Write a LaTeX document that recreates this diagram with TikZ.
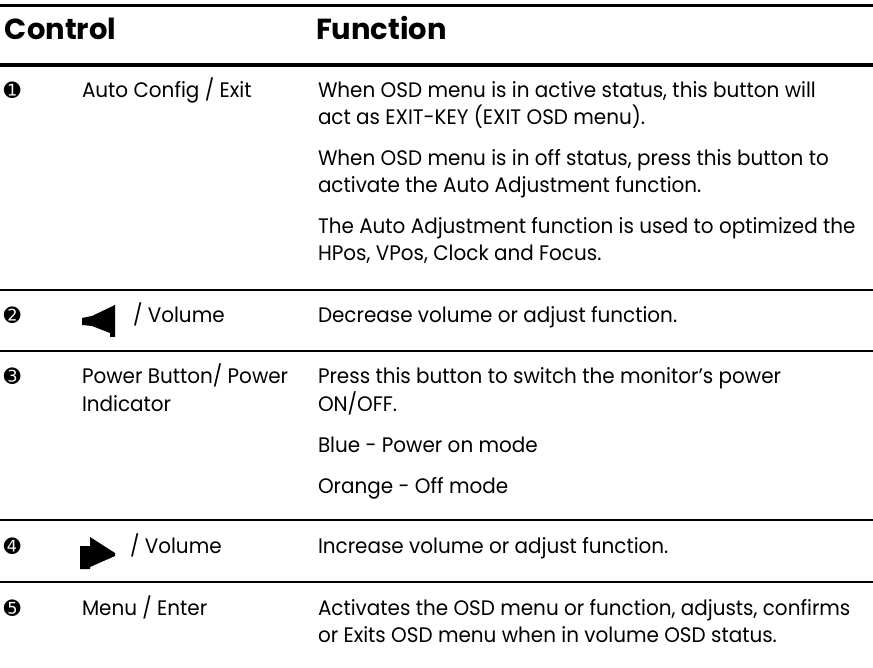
\documentclass[tikz,border=0pt]{standalone}
\usepackage{fontspec}
\newfontfamily\bodyfont{Poppins}[FakeStretch=0.95]
\newfontfamily\headfont{Poppins}
\newfontfamily\dingfont{DejaVu Sans}
\tikzset{
  txt/.style={anchor=base west, inner sep=0pt, outer sep=0pt, font=\bodyfont\fontsize{21}{26}\selectfont},
  hd/.style={anchor=base west, inner sep=0pt, outer sep=0pt, font=\headfont\bfseries\fontsize{29}{34}\selectfont},
  num/.style={anchor=base west, inner sep=0pt, outer sep=0pt, font=\dingfont\fontsize{20}{22}\selectfont},
  thickrule/.style={line width=3.5pt},
  thinrule/.style={line width=1.2pt},
  icon/.style={fill=black, draw=none}
}
\begin{document}
\begin{tikzpicture}[x=1pt,y=-1pt]
\useasboundingbox (0,0) rectangle (873,668);
\fill[white] (0,0) rectangle (873,668);
% rules
\draw[thickrule] (0,5.5) -- (873,5.5);
\draw[thickrule] (0,65) -- (873,65);
\draw[thinrule] (0,290) -- (873,290);
\draw[thinrule] (0,351) -- (873,351);
\draw[thinrule] (0,520) -- (873,520);
\draw[thinrule] (0,582) -- (873,582);
% header
\node[hd] (hc) at (5,40) {Control};
\node[hd] (hf) at (316,40) {Function};
% row 1
\node[num] (n1) at (4,98) {➊};
\node[txt] (c1) at (82,98) {Auto Config / Exit};
\node[txt] (f1a) at (318,98) {When OSD menu is in active status, this button will};
\node[txt] (f1b) at (318,125) {act as EXIT-KEY (EXIT OSD menu).};
\node[txt] (f1c) at (318,166) {When OSD menu is in off status, press this button to};
\node[txt] (f1d) at (318,193) {activate the Auto Adjustment function.};
\node[txt] (f1e) at (318,234) {The Auto Adjustment function is used to optimized the};
\node[txt] (f1f) at (318,261) {HPos, VPos, Clock and Focus.};
% row 2
\node[num] (n2) at (4,323) {➋};
\fill[icon] (82,318) -- (92,316) -- (115,305) -- (115,337) -- (110,337) -- (110,333) -- (92,326) -- (82,325) -- cycle;
\node[txt] (c2) at (133,323) {/ Volume};
\node[txt] (f2) at (318,323) {Decrease volume or adjust function.};
% row 3
\node[num] (n3) at (4,384) {➌};
\node[txt] (c3a) at (82,384) {Power Button/ Power};
\node[txt] (c3b) at (82,411) {Indicator};
\node[txt] (f3a) at (318,384) {Press this button to switch the monitor’s power};
\node[txt] (f3b) at (318,411) {ON/OFF.};
\node[txt] (f3c) at (318,452) {Blue - Power on mode};
\node[txt] (f3d) at (318,493) {Orange - Off mode};
% row 4
\node[num] (n4) at (4,553) {➍};
\fill[icon] (80,569) -- (80,546) -- (90,546) -- (90,537) -- (115,553) -- (115,556) -- (90,567) -- (90,569) -- cycle;
\node[txt] (c4) at (130,553) {/ Volume};
\node[txt] (f4) at (318,553) {Increase volume or adjust function.};
% row 5
\node[num] (n5) at (4,615) {➎};
\node[txt] (c5) at (82,615) {Menu / Enter};
\node[txt] (f5a) at (318,615) {Activates the OSD menu or function, adjusts, confirms};
\node[txt] (f5b) at (318,642) {or Exits OSD menu when in volume OSD status.};
\end{tikzpicture}
\end{document}
